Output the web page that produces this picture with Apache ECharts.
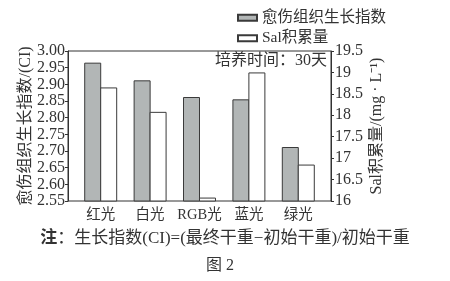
<!DOCTYPE html>
<html><head><meta charset="utf-8">
<script src="https://cdn.jsdelivr.net/npm/echarts@6/dist/echarts.min.js"></script>
<style>html,body{margin:0;padding:0;background:#fff}#c{width:450px;height:281px}</style>
</head><body><div id="c"></div>
<script>
const categories = ['红光', '白光', 'RGB光', '蓝光', '绿光'];
const ciValues = [2.965, 2.912, 2.862, 2.855, 2.712];
const salValues = [18.65, 18.08, 16.08, 19.0, 16.85];
const seriesNames = ['愈伤组织生长指数', 'Sal积累量'];
const ciTicks = { min: 2.55, max: 3.00, interval: 0.05 };
const salTicks = { min: 16, max: 19.5, interval: 0.5 };

const FONT = '"Liberation Serif", "Noto Sans CJK SC", serif';
const INK = '#333';
const chart = echarts.init(document.getElementById('c'), null, { renderer: 'canvas' });
const lab = { color: INK, fontFamily: FONT, fontSize: 16 };

chart.setOption({
  animation: false,
  backgroundColor: '#fff',
  textStyle: { fontFamily: FONT, color: INK },
  legend: {
    orient: 'vertical', left: 232, top: 5, itemWidth: 19, itemHeight: 6, itemGap: 5,
    icon: 'rect', data: seriesNames,
    textStyle: { color: INK, fontFamily: FONT, fontSize: 15.5 }
  },
  grid: [
    { left: 68, right: 119, top: 51, bottom: 80, show: true, borderColor: INK, borderWidth: 1 },
    { left: 76, right: 127, top: 51, bottom: 80 }
  ],
  xAxis: [
    { gridIndex: 0, type: 'category', data: categories, axisLine: { show: false }, axisTick: { show: false }, axisLabel: { show: false } },
    { gridIndex: 1, type: 'category', data: categories, axisLine: { show: false }, axisTick: { show: false },
      axisLabel: Object.assign({}, lab, { margin: 7, interval: 0, fontSize: 14.5 }) }
  ],
  yAxis: [
    { gridIndex: 0, type: 'value', min: ciTicks.min, max: ciTicks.max, interval: ciTicks.interval,
      name: '愈伤组织生长指数/(CI)', nameLocation: 'middle', nameRotate: 90, nameGap: 34,
      nameMoveOverlap: false,
      nameTextStyle: Object.assign({}, lab, { fontSize: 16 }),
      axisLine: { show: true, lineStyle: { color: INK } }, axisTick: { show: true, length: 3, lineStyle: { color: INK } },
      splitLine: { show: false },
      axisLabel: Object.assign({ margin: 3, formatter: v => v.toFixed(2) }, lab) },
    { gridIndex: 0, type: 'value', position: 'right', min: salTicks.min, max: salTicks.max, interval: salTicks.interval,
      name: 'Sal积累量/(mg · L⁻¹)', nameLocation: 'middle', nameRotate: 90, nameGap: 38,
      nameMoveOverlap: false,
      nameTextStyle: Object.assign({}, lab, { fontSize: 16 }),
      axisLine: { show: true, lineStyle: { color: INK } }, axisTick: { show: true, length: 3, lineStyle: { color: INK } },
      splitLine: { show: false },
      axisLabel: Object.assign({ margin: 4 }, lab) },
    { gridIndex: 1, type: 'value', show: false, min: ciTicks.min, max: ciTicks.max, interval: ciTicks.interval, splitLine: { show: false } },
    { gridIndex: 1, type: 'value', show: false, min: salTicks.min, max: salTicks.max, interval: salTicks.interval, splitLine: { show: false } }
  ],
  series: [
    { name: seriesNames[0], type: 'bar', xAxisIndex: 1, yAxisIndex: 2, data: ciValues,
      barWidth: 17, barGap: '-6%',
      itemStyle: { color: '#b2b6b6', borderColor: '#3a3a3a', borderWidth: 1 } },
    { name: seriesNames[1], type: 'bar', xAxisIndex: 1, yAxisIndex: 3, data: salValues,
      barWidth: 17, barGap: '-6%',
      itemStyle: { color: '#ffffff', borderColor: '#3a3a3a', borderWidth: 1 } }
  ],
  graphic: [
    { type: 'text', right: 123, top: 53, style: { text: '培养时间：30天', font: '16px ' + FONT, fill: INK } },
    { type: 'text', left: 'center', top: 230, style: {
        text: '{b|注}：生长指数(CI)=(最终干重−初始干重)/初始干重',
        font: '17px ' + FONT, fill: INK,
        rich: { b: { fontWeight: 'bold', fontSize: 17, fontFamily: FONT, fill: INK } } } },
    { type: 'text', left: 206, top: 258, style: { text: '图 2', font: '16px ' + FONT, fill: INK } }
  ]
});
</script></body></html>
